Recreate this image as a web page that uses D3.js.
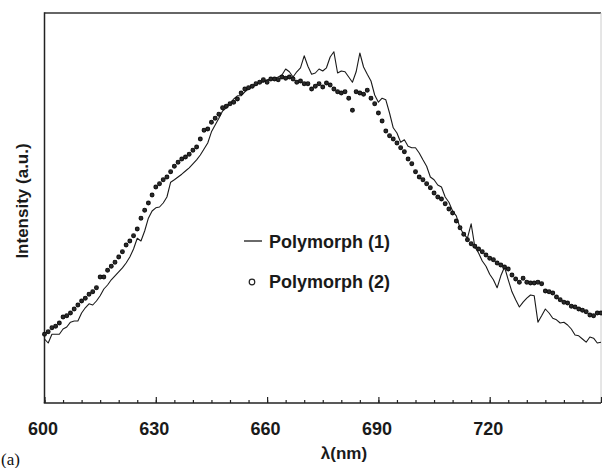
<!DOCTYPE html>
<html>
<head>
<meta charset="utf-8">
<script src="https://cdn.jsdelivr.net/npm/d3@7"></script>
<style>
  html, body { margin: 0; padding: 0; background: #fff; }
  svg { display: block; }
</style>
</head>
<body>
<svg id="chart" width="602" height="468"></svg>
<script>
// ---- data ----
const wavelengthStart = 600;   // nm
const wavelengthEnd = 750;     // nm, sampled every 1 nm
const wavelengths = d3.range(wavelengthStart, wavelengthEnd + 1, 1);

// Polymorph (1) – solid line, intensity (a.u.)
const polymorph1 = [
  16,15,17.2,17.2,17.2,18.5,19,20.2,20.5,20.5,
  22.5,23.8,24.8,24.5,25.5,26.8,28.5,29.5,30.8,31.8,
  32.8,33.8,35,36.5,38.5,41.2,40.5,43,46.2,48,
  48.8,49,50,51.5,55.2,55.8,56.5,57.2,58,58.8,
  59.8,60.8,62,63.5,65,67.8,69.5,71.2,73,73.8,
  75,76,76.8,76.8,77.8,78.5,79,79.5,80.2,80.2,
  80.8,81,81.2,81.5,82,83.5,82.8,81.5,82.8,83.8,
  86.8,84.2,82.2,82.5,83.5,83,83.8,86.5,87.8,82.5,
  83,82.8,81.5,80.2,82.8,87.5,84,82.2,80.5,77,
  75.2,76.2,75.8,72.5,68.8,67.5,65.2,65.8,64.2,63.8,
  63.8,62.5,60.8,59.2,56.5,55.8,54.5,54,51.5,50.2,
  48,46.8,43.8,42.2,41.2,44.8,39,37.5,35.5,34.2,
  32.2,30.8,28.8,31.8,34,30.8,27.8,25.8,24,25.2,
  26.2,27,26.8,20.2,21.8,23.5,22.5,21.2,20.8,20,
  20.2,19.5,18.5,17,16.8,16,15.2,16.5,16.2,15,
  15.2
];

// Polymorph (2) – circles, intensity (a.u.)
const polymorph2 = [
  17.2,17.8,18.8,19.2,20,21.5,21.8,22.5,23.5,24.5,
  25.5,26.2,27.2,27.8,28.8,31.5,31.5,33.2,34.2,35.2,
  36.5,37.8,39.5,40.5,41.8,43.5,46.2,48.2,50,52,
  54,54.8,55.8,56.5,57.8,59.2,60.2,61,61.5,62.2,
  63.2,64,66,68.2,68.5,70.2,71.2,72.2,73.8,74.2,
  74.8,75.2,76,77.5,78.5,78.8,79.2,79.8,80.2,80.8,
  80.2,81,81,80.8,81.5,81.2,81.5,81,80.2,80.5,
  79.8,79.8,78.5,79.2,79.8,79,80,79.5,78.5,77.8,
  77.5,77.8,76.2,73.2,77.8,77.5,77.2,78.2,76.2,74.8,
  72.5,70.5,68,66.8,66,65,63.8,62.8,61,59.8,
  57.8,56.5,55.8,54.8,53.8,52.5,51.5,51,49.8,48.5,
  47.5,45.5,43.8,42.2,40.8,39.8,39.2,38.5,37.8,37,
  36.2,35.8,35,34.5,34,33.5,32,31,30.2,31.2,
  30.2,30,30,30.2,29.8,28,27.8,27.5,26.5,25.8,
  25.2,25,24.2,24,23.5,23.2,22.8,22,21.8,22.5,
  22.5
];

const xTickLabels = [600, 630, 660, 690, 720];
const seriesNames = ["Polymorph (1)", "Polymorph (2)"];
const xTitle = "λ(nm)";
const yTitle = "Intensity (a.u.)";
const panelLabel = "(a)";

// ---- drawing ----
const svg = d3.select("#chart");
const plotLeft = 44.5, plotRight = 601, plotTop = 13, plotBottom = 403;

const x = d3.scaleLinear().domain([wavelengthStart, wavelengthEnd]).range([plotLeft, plotRight]);
const y = d3.scaleLinear().domain([0, 97.5]).range([plotBottom, plotTop]);

const font = "'Liberation Sans', Arial, Helvetica, sans-serif";

// frame
svg.append("line").attr("x1", plotLeft).attr("x2", plotRight).attr("y1", plotTop).attr("y2", plotTop)
  .attr("stroke", "#333").attr("stroke-width", 1.5);
svg.append("line").attr("x1", plotLeft).attr("x2", plotLeft).attr("y1", plotTop - 0.75).attr("y2", plotBottom)
  .attr("stroke", "#222").attr("stroke-width", 1.5);
svg.append("line").attr("x1", plotRight).attr("x2", plotRight).attr("y1", plotTop).attr("y2", plotBottom)
  .attr("stroke", "#ccc").attr("stroke-width", 1);

// minor ticks (every 5 nm)
const minorAxis = d3.axisBottom(x)
  .tickValues(d3.range(wavelengthStart, wavelengthEnd + 1, 5))
  .tickSize(-3).tickFormat("");
svg.append("g").attr("transform", `translate(0,${plotBottom})`).call(minorAxis)
  .call(g => g.select(".domain").remove())
  .call(g => g.selectAll("line").attr("stroke", "#222").attr("stroke-width", 1.2));

// major ticks with labels
const majorAxis = d3.axisBottom(x)
  .tickValues(xTickLabels.concat([wavelengthEnd]))
  .tickSize(-6).tickPadding(19)
  .tickFormat(d => xTickLabels.includes(d) ? d3.format("d")(d) : "");
const gx = svg.append("g").attr("transform", `translate(0,${plotBottom})`).call(majorAxis);
gx.select(".domain").remove();
gx.selectAll("line").attr("stroke", "#222").attr("stroke-width", 1.2);
gx.selectAll("text")
  .attr("font-family", font).attr("font-size", 18).attr("font-weight", "bold")
  .attr("fill", "#1a1a1a").attr("dx", -2);

// bottom axis line
svg.append("line").attr("x1", plotLeft - 0.75).attr("x2", plotRight).attr("y1", plotBottom).attr("y2", plotBottom)
  .attr("stroke", "#222").attr("stroke-width", 1.5);

// Polymorph (1) line
const lineData = wavelengths.map((w, i) => [w, polymorph1[i]]);
svg.append("path")
  .datum(lineData)
  .attr("fill", "none")
  .attr("stroke", "#1a1a1a")
  .attr("stroke-width", 1.1)
  .attr("stroke-linejoin", "round")
  .attr("d", d3.line().x(d => x(d[0])).y(d => y(d[1])));

// Polymorph (2) circles
svg.append("g").selectAll("circle")
  .data(wavelengths.map((w, i) => [w, polymorph2[i]]))
  .join("circle")
  .attr("cx", d => x(d[0]))
  .attr("cy", d => y(d[1]))
  .attr("r", 1.9)
  .attr("fill", "#2a2a2a")
  .attr("stroke", "#111")
  .attr("stroke-width", 1.1);

// legend
svg.append("line").attr("x1", 244).attr("x2", 262).attr("y1", 241).attr("y2", 241)
  .attr("stroke", "#1a1a1a").attr("stroke-width", 1.3);
svg.append("text").attr("x", 269).attr("y", 248).text(seriesNames[0])
  .attr("font-family", font).attr("font-size", 18).attr("font-weight", "bold").attr("fill", "#1a1a1a");
svg.append("circle").attr("cx", 252).attr("cy", 282).attr("r", 2.8)
  .attr("fill", "#fff").attr("stroke", "#222").attr("stroke-width", 1.2);
svg.append("text").attr("x", 269).attr("y", 288).text(seriesNames[1])
  .attr("font-family", font).attr("font-size", 18).attr("font-weight", "bold").attr("fill", "#1a1a1a");

// axis titles
svg.append("text").attr("x", 344).attr("y", 459).attr("text-anchor", "middle").text(xTitle)
  .attr("font-family", font).attr("font-size", 17).attr("font-weight", "bold").attr("fill", "#1a1a1a");
svg.append("text").attr("transform", "translate(28,201) rotate(-90)").attr("text-anchor", "middle")
  .text(yTitle)
  .attr("font-family", font).attr("font-size", 17).attr("font-weight", "bold").attr("fill", "#1a1a1a");

// panel label
svg.append("text").attr("x", 1).attr("y", 465).text(panelLabel)
  .attr("font-family", "'Liberation Serif', 'Times New Roman', serif").attr("font-size", 17).attr("fill", "#111");
</script>
</body>
</html>
